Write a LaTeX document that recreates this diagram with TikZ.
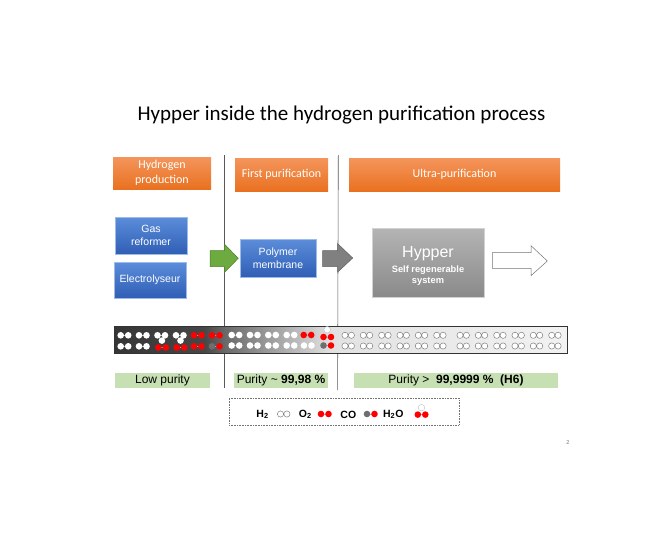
\documentclass[tikz,border=0pt]{standalone}
\usepackage{fontspec}
\setmainfont{Liberation Sans}
\newfontfamily\carl{Carlito}
\definecolor{orT}{HTML}{F4955C}
\definecolor{orB}{HTML}{E97120}
\definecolor{blT}{HTML}{5C8DDA}
\definecolor{blB}{HTML}{2F5EB5}
\definecolor{gyT}{HTML}{B4B4B4}
\definecolor{gyB}{HTML}{8A8A8A}
\definecolor{grn}{HTML}{6DAA3F}
\definecolor{grnD}{HTML}{4E7F2B}
\definecolor{lgrn}{HTML}{C6E0B4}
\definecolor{atomR}{HTML}{FF0000}
\definecolor{atomG}{HTML}{6E6E6E}
\definecolor{sA}{HTML}{353535}
\definecolor{sB}{HTML}{474747}
\definecolor{sC}{HTML}{6A6A6A}
\definecolor{sD}{HTML}{E2E2E2}
\definecolor{sE}{HTML}{F2F2F2}
\pgfdeclarehorizontalshading{stripsh}{100bp}{color(0bp)=(sA); color(25bp)=(sA); color(35bp)=(sB); color(37.3bp)=(sC); color(49bp)=(sD); color(75bp)=(sE); color(100bp)=(sE)}
\newcommand\sAtom[3]{\fill[#3] (#1,#2) circle (3.3pt);}
\newcommand\wAtom[2]{\fill[white,draw=black!30,line width=0.3pt] (#1,#2) circle (3.3pt);}
\newcommand\dPair[4]{\draw[line width=1pt,black!30] (#1,#2) -- (#1+7.5,#2);\sAtom{#1}{#2}{#3}\sAtom{#1+7.5}{#2}{#4}}
\newcommand\hPair[2]{\draw[fill=white,draw=black!50,line width=0.5pt] (#1,#2) circle (3.1pt) (#1+6.4,#2) circle (3.1pt);}
\begin{document}
\begin{tikzpicture}[x=1pt,y=-1pt,
  orbox/.style={rectangle, top color=orT, bottom color=orB, draw=none, text=white, font=\carl\fontsize{12}{15}\selectfont, align=center, inner sep=0},
  blbox/.style={rectangle, top color=blT, bottom color=blB, draw=blT!60!white, line width=0.4pt, text=white, font=\fontsize{10.5}{12.7}\selectfont, align=center, inner sep=0},
  hybox/.style={rectangle, top color=gyT, bottom color=gyB, draw=gyT!60!white, line width=0.4pt, inner sep=0},
  gnbox/.style={rectangle, fill=lgrn, text=black, font=\fontsize{12}{13}\selectfont, inner sep=0},
  sepline/.style={draw=black!65, line width=0.6pt},
  lgtext/.style={font=\bfseries\fontsize{10.5}{11}\selectfont, inner sep=0, text=black},
  blockarrow/.style={line width=0.5pt, line join=miter}]
\useasboundingbox (0,0) rectangle (672,552);
% title
\node[font=\carl\fontsize{21}{24}\selectfont, anchor=base, inner sep=0] (title) at (341.5,120.5) {Hypper inside the hydrogen purification process};
% separator lines
\coordinate (l1t) at (224.5,155); \coordinate (l1b) at (224.5,388);
\coordinate (l2t) at (338.3,155); \coordinate (l2b) at (337.6,390);
\draw[sepline] (l1t) -- (l1b);
\draw[sepline] (l2t) -- (l2b);
% orange headers
\node[orbox, minimum width=98, minimum height=32] (prod) at (162,173) {Hydrogen\\production};
\node[orbox, minimum width=93, minimum height=33] (first) at (281.5,174.5) {First purification};
\node[orbox, minimum width=211, minimum height=33] (ultra) at (454.5,174.5) {Ultra-purification};
% blue boxes
\node[blbox, minimum width=72, minimum height=37] (gas) at (151,235.5) {Gas\\reformer};
\node[blbox, minimum width=72, minimum height=36] (elec) at (150,280) {Electrolyseur};
\node[blbox, minimum width=76, minimum height=38] (poly) at (278,258) {Polymer\\membrane};
% hypper
\node[hybox, minimum width=112, minimum height=69] (hyp) at (428,262.5) {};
\node[text=white, font=\fontsize{16}{17}\selectfont, inner sep=0] (hyptitle) at (428,253.5) {Hypper};
\node[text=white, font=\bfseries\fontsize{9.3}{11}\selectfont, align=center, inner sep=0] (hypsub) at (428,275.5) {Self regenerable\\system};
% block arrows
\draw[blockarrow, fill=grn, draw=grnD] (210,250.7) -- (224.3,250.7) -- (224.3,244) -- (238.3,258.3) -- (224.3,272.5) -- (224.3,266.7) -- (210,266.7) -- cycle;
\draw[blockarrow, fill=black!50, draw=black!62] (322.7,250.7) -- (337.5,250.7) -- (337.5,243.5) -- (352.7,258) -- (337.5,272.3) -- (337.5,266.7) -- (322.7,266.7) -- cycle;
\draw[blockarrow, fill=white, draw=black!55] (492.3,252.7) -- (531,252.7) -- (531,245.7) -- (547.3,261) -- (531,275.7) -- (531,268.3) -- (492.3,268.3) -- cycle;
% molecule strip
\node[draw=black!80, line width=0.7pt, shade, shading=stripsh, minimum width=453, minimum height=27, inner sep=0] (strip) at (340.5,339.5) {};
% dark section
\dPair{120.7}{335.3}{white}{white}
\dPair{139}{335.3}{white}{white}
\dPair{157.5}{335.3}{white}{white}
\dPair{176}{335.3}{white}{white}
\dPair{194}{335.3}{atomR}{atomR}
\dPair{212}{335.3}{atomR}{atomR}
\dPair{120.7}{346.3}{white}{white}
\dPair{139}{346.3}{white}{white}
\dPair{158.3}{347.5}{atomR}{atomR}
\sAtom{161.9}{340.6}{white}
\dPair{176.7}{347.5}{atomR}{atomR}
\sAtom{180.5}{340.6}{white}
\dPair{194}{346.3}{atomR}{atomR}
\dPair{212}{346.3}{atomG}{atomR}
% middle section
\dPair{231.7}{335}{white}{white}
\dPair{250}{335}{white}{white}
\dPair{268.3}{335}{white}{white}
\dPair{286.7}{335}{white}{white}
\dPair{303.7}{335}{atomR}{atomR}
\dPair{231.7}{345.5}{white}{white}
\dPair{250}{345.5}{white}{white}
\dPair{268.3}{345.5}{white}{white}
\dPair{286.7}{345.5}{white}{white}
\dPair{304}{345.5}{white}{white}
\wAtom{327.2}{329.7}
\dPair{323.5}{337}{atomR}{atomR}
\dPair{323.5}{345.5}{atomG}{atomR}
% light section
\foreach \xx in {345,363.3,381.7,400,418.3,436.7,460,478.3,496.7,515,533.3,551.7}{
  \hPair{\xx}{335.3}
  \hPair{\xx}{346}
}
% purity labels
\node[gnbox, minimum width=95, minimum height=14.5] (low) at (162.5,380.5) {Low purity};
\node[gnbox, minimum width=94, minimum height=14.5] (mid) at (281,380.5) {Purity \textasciitilde\ \textbf{99,98 \%}};
\node[gnbox, minimum width=204, minimum height=14.5] (high) at (456,380.5) {Purity > \ \textbf{99,9999 \% \ (H6)}};
% legend
\node[draw=black!55, densely dotted, line width=0.6pt, minimum width=230, minimum height=27, inner sep=0] (legend) at (344,411.5) {};
\node[lgtext] (lh2) at (262.5,414.5) {H\textsubscript{2}};
\hPair{280.5}{414}
\node[lgtext] (lo2) at (305.3,414.5) {O\textsubscript{2}};
\dPair{321}{414}{atomR}{atomR}
\node[lgtext] (lco) at (348.3,414.5) {CO};
\dPair{367}{414}{atomG}{atomR}
\node[lgtext] (lh2o) at (393.3,414.5) {H\textsubscript{2}O};
\wAtom{421.5}{407.7}
\dPair{417.8}{414.6}{atomR}{atomR}
% page number
\node[font=\fontsize{5.5}{6}\selectfont, text=black!55, inner sep=0] (pg) at (568,443) {2};
\end{tikzpicture}
\end{document}
